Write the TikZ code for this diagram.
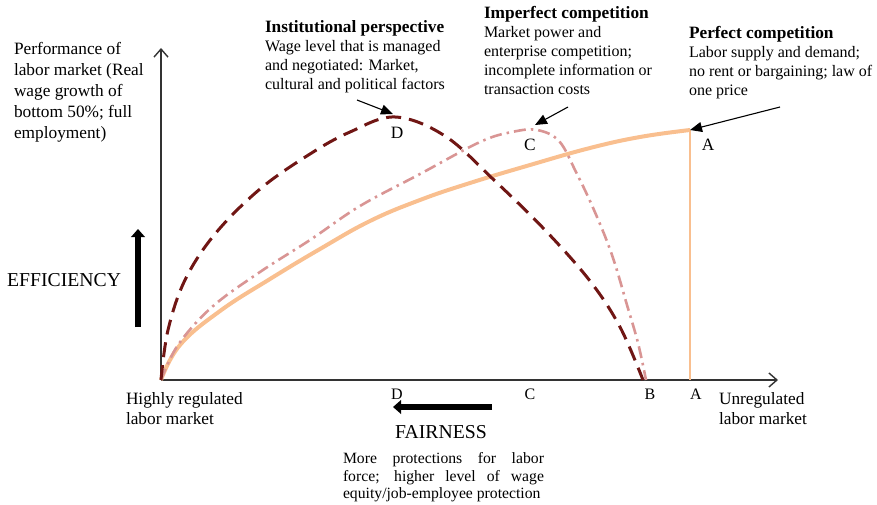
\documentclass[tikz,border=0pt]{standalone}
\usepackage{fontspec}
\setmainfont{Liberation Serif}
\usetikzlibrary{arrows.meta}
\definecolor{dcol}{RGB}{112,22,20}
\definecolor{ccol}{HTML}{D99594}
\definecolor{acol}{HTML}{F9BF8F}
\definecolor{axcol}{HTML}{333333}
\begin{document}
\begin{tikzpicture}[x=1pt,y=-1pt,
  txt/.style={inner sep=0pt, outer sep=0pt, align=left, anchor=north west},
  toplbl/.style={inner sep=0pt, anchor=base, font=\fontsize{17.3}{20}\selectfont},
  axlbl/.style={inner sep=0pt, anchor=base, font=\fontsize{16}{19}\selectfont},
  axisline/.style={draw=axcol, line width=1.4pt, -{Straight Barb[length=8pt,width=14pt,line width=1.4pt]}},
  dcurve/.style={draw=dcol, line width=3pt, dash pattern=on 15pt off 8pt},
  ccurve/.style={draw=ccol, line width=2.6pt, dash pattern=on 12pt off 5pt on 2.5pt off 5pt},
  acurve/.style={draw=acol, line width=4pt},
  pointer/.style={draw=black, line width=1.1pt, -{Triangle[length=12pt,width=10pt]}},
  bigarrow/.style={draw=black, line width=6.5pt, -{Triangle[length=8pt,width=13.5pt]}}
]
\path[use as bounding box] (0,0) rectangle (877,505);

% axes
\coordinate (O) at (161,380);
\coordinate (ytip) at (161,48);
\coordinate (xtip) at (778,380);
\draw[axisline] (O) -- (ytip);
\draw[axisline] (O) -- (xtip);

% curves
\draw[acurve] plot[smooth, tension=0.7] coordinates {(161,380) (180,345) (220,311) (270,279) (320,249) (370,221) (420,200) (470,183) (530,165) (590,148) (640,137) (690,130)};
\coordinate (Apk) at (690,130);
\coordinate (Aax) at (690,380);
\draw[draw=acol, line width=2pt] (Apk) -- (Aax);

\draw[ccurve] plot[smooth, tension=0.6] coordinates {(161,380) (178,345) (212,307) (260,272) (310,240) (360,206) (420,174) (480,142) (512,132) (537,130) (559,141) (576,172) (594,210) (612,255) (627,305) (638,343) (646,380)};
\coordinate (Cpk) at (535,125);

\draw[dcurve] plot[smooth, tension=0.6] coordinates {(161,380) (168,330) (185,280) (215,234) (260,189) (310,154) (350,132) (395,117) (445,136) (495,181) (545,230) (590,281) (620,327) (643,380)};
\coordinate (Dpk) at (393,114);

% peak labels
\node[toplbl] (Dtop) at (397,139) {D};
\node[toplbl] (Ctop) at (530,150) {C};
\node[toplbl] (Atop) at (708,150) {A};

% axis labels
\node[axlbl] (Dax) at (397,399) {D};
\node[axlbl] (Cax) at (530,399) {C};
\node[axlbl] (Bax) at (650,399) {B};
\node[axlbl] (Aaxl) at (696,399) {A};

% texts
\node[txt, font=\fontsize{17.3}{21}\selectfont] (perf) at (14,42.3) {Performance of\\labor market (Real\\wage growth of\\bottom 50\%; full\\employment)};

\node[txt, font=\fontsize{16}{19}\selectfont] (inst) at (265,20) {{\bfseries\fontsize{17.3}{19}\selectfont Institutional perspective}\\Wage level that is managed\\and negotiated: Market,\\cultural and political factors};

\node[txt, font=\fontsize{16}{19}\selectfont] (imp) at (484,6.5) {{\bfseries\fontsize{17.3}{19}\selectfont Imperfect competition}\\Market power and\\enterprise competition;\\incomplete information or\\transaction costs};

\node[txt, font=\fontsize{16}{19}\selectfont] (pc) at (689,26.5) {{\bfseries\fontsize{17.3}{20}\selectfont Perfect competition}\\Labor supply and demand;\\no rent or bargaining; law of\\one price};

\node[txt, font=\fontsize{17.3}{20}\selectfont] (hreg) at (126,392.2) {Highly regulated\\labor market};
\node[txt, font=\fontsize{17.3}{20}\selectfont] (ureg) at (719,392.5) {Unregulated\\labor market};

\node[inner sep=0pt, anchor=base west, font=\fontsize{19.7}{24}\selectfont] (eff) at (7,286) {EFFICIENCY};
\node[inner sep=0pt, anchor=base west, font=\fontsize{19.7}{24}\selectfont] (fair) at (395,438) {FAIRNESS};
\node[txt, text width=201pt, align=justify, font=\fontsize{15.7}{17.3}\selectfont] (fairtxt) at (343,452.8) {\hyphenpenalty=10000\relax More protections for labor\linebreak force; higher level of wage\linebreak equity/job-employee protection};

% pointers
\coordinate (instS) at (357,100);
\coordinate (impS) at (568,107);
\coordinate (pcS) at (780,107);
\draw[pointer] (instS) -- (Dpk);
\draw[pointer] (impS) -- (Cpk);
\draw[pointer] (pcS) -- (Apk);

% thick arrows
\coordinate (effS) at (138,327);
\coordinate (effE) at (138,229);
\draw[bigarrow] (effS) -- (effE);
\coordinate (fairS) at (492,407);
\coordinate (fairE) at (393,407);
\draw[bigarrow] (fairS) -- (fairE);
\end{tikzpicture}
\end{document}
